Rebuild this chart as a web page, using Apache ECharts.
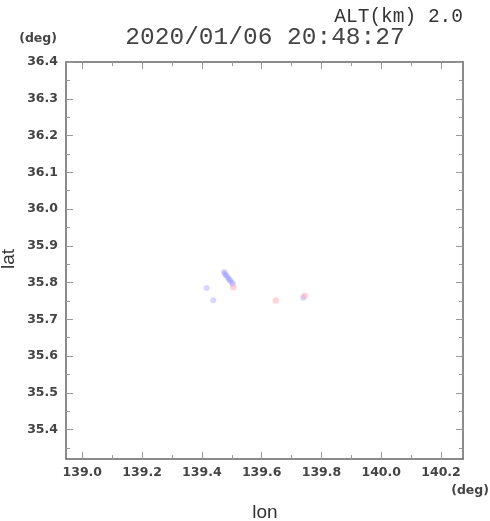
<!DOCTYPE html>
<html>
<head>
<meta charset="utf-8">
<script src="https://cdn.jsdelivr.net/npm/echarts@6/dist/echarts.min.js"></script>
<style>html,body{margin:0;padding:0;background:#fff;}#c{width:490px;height:521px;}</style>
</head>
<body>
<div id="c"></div>
<script>
const lonMin = 138.9455, lonMax = 140.2735;
const latMin = 35.32, latMax = 36.4;
const lonMajorTicks = [139.0, 139.2, 139.4, 139.6, 139.8, 140.0, 140.2];
const lonMinorTicks = [139.1, 139.3, 139.5, 139.7, 139.9, 140.1];
const latMajorTicks = [35.4, 35.5, 35.6, 35.7, 35.8, 35.9, 36.0, 36.1, 36.2, 36.3, 36.4];
const latMinorTicks = [35.35, 35.45, 35.55, 35.65, 35.75, 35.85, 35.95, 36.05, 36.15, 36.25, 36.35];
const bluePoints = [
  [139.416, 35.785], [139.438, 35.752],
  [139.474, 35.829], [139.477, 35.824], [139.481, 35.820], [139.486, 35.815],
  [139.490, 35.810], [139.494, 35.806], [139.499, 35.801], [139.504, 35.796],
  [139.739, 35.759]
];
const redPoints = [
  [139.505, 35.787], [139.647, 35.751], [139.744, 35.764]
];
const titleText = '2020/01/06 20:48:27';
const altText = 'ALT(km) 2.0';

const lblFont = {color:'#444', fontFamily:'DejaVu Sans', fontWeight:'bold', fontSize:12.5};
const lineStyle = {color:'#666', width:1.5};
const tickStyle = {color:'#999', width:1};

function xAx(pos, vals, len, labels, line){
  return {type:'value', gridIndex:0, position:pos, min:lonMin, max:lonMax,
    axisLine:{show:line, onZero:false, lineStyle}, splitLine:{show:false},
    axisTick:{show:true, inside:true, length:len, customValues:vals, lineStyle:tickStyle},
    axisLabel: labels ? Object.assign({show:true, margin:7, customValues:vals, formatter:v=>v.toFixed(1)}, lblFont) : {show:false}};
}
function yAx(pos, vals, len, labels, line){
  return {type:'value', gridIndex:0, position:pos, min:latMin, max:latMax,
    axisLine:{show:line, onZero:false, lineStyle}, splitLine:{show:false},
    axisTick:{show:true, inside:true, length:len, customValues:vals, lineStyle:tickStyle},
    axisLabel: labels ? Object.assign({show:true, margin:8, customValues:vals, formatter:v=>v.toFixed(1)}, lblFont) : {show:false}};
}

const chart = echarts.init(document.getElementById('c'));
chart.setOption({
  animation:false,
  backgroundColor:'#fff',
  grid:{left:66, right:27, top:62, bottom:62, containLabel:false},
  xAxis:[
    xAx('bottom', lonMajorTicks, 7, true, true),
    xAx('bottom', lonMinorTicks, 4, false, false),
    xAx('top', lonMajorTicks, 7, false, true),
    xAx('top', lonMinorTicks, 4, false, false)
  ],
  yAxis:[
    yAx('left', latMajorTicks, 7, true, true),
    yAx('left', latMinorTicks, 4, false, false),
    yAx('right', latMajorTicks, 7, false, true),
    yAx('right', latMinorTicks, 4, false, false)
  ],
  series:[
    {type:'scatter', xAxisIndex:0, yAxisIndex:0, data:bluePoints, symbolSize:6,
     itemStyle:{color:'rgba(130,130,255,0.4)'}},
    {type:'scatter', xAxisIndex:0, yAxisIndex:0, data:redPoints, symbolSize:6.5,
     itemStyle:{color:'rgba(255,160,170,0.55)'}}
  ],
  graphic:[
    {type:'text', style:{text:titleText, x:265, y:38, align:'center', verticalAlign:'middle',
      font:'24.5px "Liberation Mono"', fill:'#444'}},
    {type:'text', style:{text:altText, x:463, y:17, align:'right', verticalAlign:'middle',
      font:'19.5px "Liberation Mono"', fill:'#333'}},
    {type:'text', style:{text:'(deg)', x:57, y:39, align:'right', verticalAlign:'middle',
      font:'bold 12.5px "DejaVu Sans"', fill:'#444'}},
    {type:'text', style:{text:'(deg)', x:489, y:491, align:'right', verticalAlign:'middle',
      font:'bold 12.5px "DejaVu Sans"', fill:'#444'}},
    {type:'text', style:{text:'lon', x:265, y:513, align:'center', verticalAlign:'middle',
      font:'19px "Liberation Sans"', fill:'#333'}},
    {type:'text', rotation:Math.PI/2, x:9, y:259, style:{text:'lat', x:0, y:0, align:'center', verticalAlign:'middle',
      font:'19px "Liberation Sans"', fill:'#333'}}
  ]
});
</script>
</body>
</html>
